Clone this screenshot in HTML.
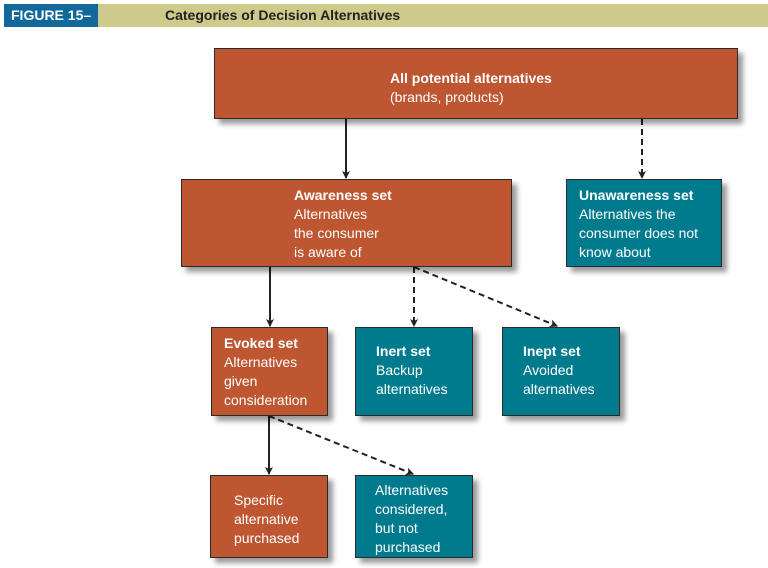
<!DOCTYPE html>
<html><head><style>
body{margin:0;width:768px;height:568px;background:#fff;position:relative;font-family:"Liberation Sans",sans-serif;overflow:hidden}
.b{position:absolute;box-sizing:border-box;border:1px solid #2a2a2a;color:#fff;font-size:14px;line-height:19px;box-shadow:5px 5px 5px rgba(0,0,0,.4)}
.o{background:#bd5631}.t{background:#007b8e}
b{font-weight:bold}
</style></head><body>
<div style="position:absolute;left:4px;top:4px;width:94px;height:23px;background:#11689a;color:#fff;font-weight:bold;font-size:14px;line-height:23px;padding-left:7px;box-sizing:border-box">FIGURE 15–2</div>
<div style="position:absolute;left:98px;top:4px;width:670px;height:23px;background:#cdca8c;color:#222;font-weight:bold;font-size:14px;line-height:23px;padding-left:67px;box-sizing:border-box">Categories of Decision Alternatives</div>
<svg width="768" height="568" style="position:absolute;left:0;top:0">
<defs><marker id="a" markerWidth="8" markerHeight="8" refX="7" refY="4" orient="auto" markerUnits="userSpaceOnUse"><path d="M0,0L8,4L0,8L2,4z" fill="#222"/></marker></defs>
<g stroke="#222" stroke-width="2" fill="none">
<line x1="346" y1="119" x2="346" y2="178" marker-end="url(#a)"/>
<line x1="642" y1="119" x2="642" y2="178" stroke-dasharray="6,4" marker-end="url(#a)"/>
<line x1="270" y1="267" x2="270" y2="326" marker-end="url(#a)"/>
<line x1="414" y1="267" x2="414" y2="326" stroke-dasharray="6,4" marker-end="url(#a)"/>
<line x1="414" y1="267" x2="557" y2="326" stroke-dasharray="6,4" marker-end="url(#a)"/>
<line x1="269" y1="416" x2="269" y2="474" marker-end="url(#a)"/>
<line x1="269" y1="416" x2="413" y2="474" stroke-dasharray="6,4" marker-end="url(#a)"/>
</g></svg>
<div class="b o" style="left:214px;top:48px;width:524px;height:71px;padding:20px 0 0 175px"><b>All potential alternatives</b><br>(brands, products)</div>
<div class="b o" style="left:181px;top:179px;width:331px;height:88px;padding:6px 0 0 112px"><b>Awareness set</b><br>Alternatives<br>the consumer<br>is aware of</div>
<div class="b t" style="left:566px;top:179px;width:156px;height:88px;padding:6px 0 0 12px"><b>Unawareness set</b><br>Alternatives the<br>consumer does not<br>know about</div>
<div class="b o" style="left:211px;top:327px;width:117px;height:89px;padding:6px 0 0 12px"><b>Evoked set</b><br>Alternatives<br>given<br>consideration</div>
<div class="b t" style="left:355px;top:327px;width:118px;height:89px;padding:14px 0 0 20px"><b>Inert set</b><br>Backup<br>alternatives</div>
<div class="b t" style="left:502px;top:327px;width:118px;height:89px;padding:14px 0 0 20px"><b>Inept set</b><br>Avoided<br>alternatives</div>
<div class="b o" style="left:210px;top:475px;width:118px;height:83px;padding:15px 0 0 23px">Specific<br>alternative<br>purchased</div>
<div class="b t" style="left:355px;top:475px;width:118px;height:83px;padding:5px 0 0 19px">Alternatives<br>considered,<br>but not<br>purchased</div>
</body></html>
